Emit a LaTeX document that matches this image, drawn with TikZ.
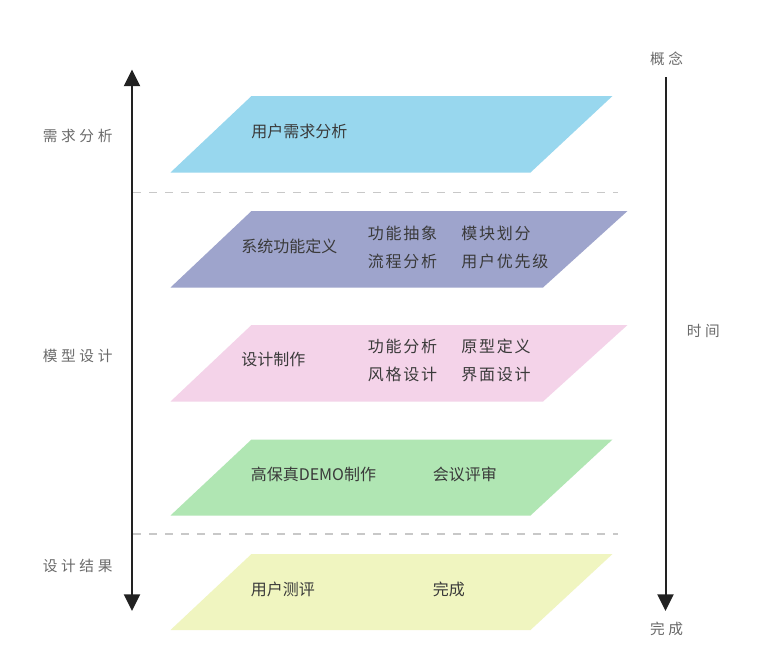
\documentclass[tikz,border=0pt]{standalone}
\usepackage{fontspec}
\setmainfont{Noto Sans CJK SC}
\newfontfamily\lblfont[LetterSpace=25]{Noto Sans CJK SC}
\newfontfamily\spcfont[LetterSpace=11]{Noto Sans CJK SC}
\usetikzlibrary{arrows.meta}
\definecolor{cblue}{HTML}{98D7EE}
\definecolor{cpurple}{HTML}{9EA4CC}
\definecolor{cpink}{HTML}{F4D3E9}
\definecolor{cgreen}{HTML}{B0E6B3}
\definecolor{cyellow}{HTML}{F0F5C0}
\definecolor{txtgray}{HTML}{3A3A3A}
\definecolor{lblgray}{HTML}{6A6A6A}
\definecolor{dashgray}{HTML}{C8C8C8}
\definecolor{axisgray}{HTML}{222222}
\begin{document}
\begin{tikzpicture}[x=0.75pt,y=-0.75pt,
  itemtxt/.style={anchor=west,inner sep=0pt,text=txtgray,font=\fontsize{12pt}{14pt}\selectfont},
  spctxt/.style={anchor=west,inner sep=0pt,text=txtgray,font=\spcfont\fontsize{12pt}{14pt}\selectfont},
  sidetxt/.style={inner sep=0pt,text=lblgray,font=\lblfont\fontsize{11pt}{13pt}\selectfont},
  dashline/.style={draw=dashgray,line width=1.1pt,dash pattern=on 6pt off 6pt},
  axisline/.style={draw=axisgray,line width=1.5pt},
  tip/.style={}
]
\useasboundingbox (0,0) rectangle (768,658);
\fill[white] (0,0) rectangle (768,658);

% layers
\fill[cblue]   (251.5,96)    -- (612.5,96)    -- (530.5,172.5) -- (170.5,172.5) -- cycle;
\fill[cpurple] (251.5,211)   -- (627.5,211)   -- (543,287.5)   -- (170.5,287.5) -- cycle;
\fill[cpink]   (251.5,325)   -- (627.5,325)   -- (543,401.5)   -- (170.5,401.5) -- cycle;
\fill[cgreen]  (251.5,439.5) -- (612.5,439.5) -- (530.5,515.5) -- (170.5,515.5) -- cycle;
\fill[cyellow] (251.5,554)   -- (612.5,554)   -- (530.5,630)   -- (170.5,630)   -- cycle;

% dashed separators
\coordinate (d1a) at (133,192.5); \coordinate (d1b) at (618,192.5);
\coordinate (d2a) at (133,534);   \coordinate (d2b) at (618,534);
\draw[dashline] (d1a) -- (d1b);
\draw[dashline] (d2a) -- (d2b);

% left axis
\coordinate (la) at (132,69.5); \coordinate (lb) at (132,611);
\draw[axisline,{Triangle[width=12pt,length=12.5pt]}-{Triangle[width=12pt,length=12.5pt]}] (la) -- (lb);

% right axis
\node[sidetxt] (concept) at (666.5,58.5) {概念};
\node[sidetxt] (finish) at (666.5,629) {完成};
\node[sidetxt,anchor=west] (time) at (686.5,331) {时间};
\coordinate (ra) at (665.5,77); \coordinate (rb) at (665.5,611);
\draw[axisline,-{Triangle[width=12pt,length=12.5pt]}] (ra) -- (rb);

% left labels
\node[sidetxt,anchor=west] (s1) at (42.5,135.5) {需求分析};
\node[sidetxt,anchor=west] (s2) at (42.5,355.5) {模型设计};
\node[sidetxt,anchor=west] (s3) at (42.5,566) {设计结果};

% layer texts
\node[itemtxt] (t1) at (251,131.5) {用户需求分析};
\node[itemtxt] (t2) at (241,246) {系统功能定义};
\node[spctxt] (t2a) at (367.5,233.3) {功能抽象};
\node[spctxt] (t2b) at (461,233.3) {模块划分};
\node[spctxt] (t2c) at (367.5,261) {流程分析};
\node[spctxt] (t2d) at (461,261) {用户优先级};
\node[itemtxt] (t3) at (241,359.3) {设计制作};
\node[spctxt] (t3a) at (367.5,346.7) {功能分析};
\node[spctxt] (t3b) at (461,346.7) {原型定义};
\node[spctxt] (t3c) at (367.5,374.3) {风格设计};
\node[spctxt] (t3d) at (461,374.3) {界面设计};
\node[itemtxt] (t4) at (250.5,474.3) {高保真DEMO制作};
\node[itemtxt] (t4a) at (432.5,474.3) {会议评审};
\node[itemtxt] (t5) at (250.5,589) {用户测评};
\node[itemtxt] (t5a) at (432.5,589) {完成};
\end{tikzpicture}
\end{document}
